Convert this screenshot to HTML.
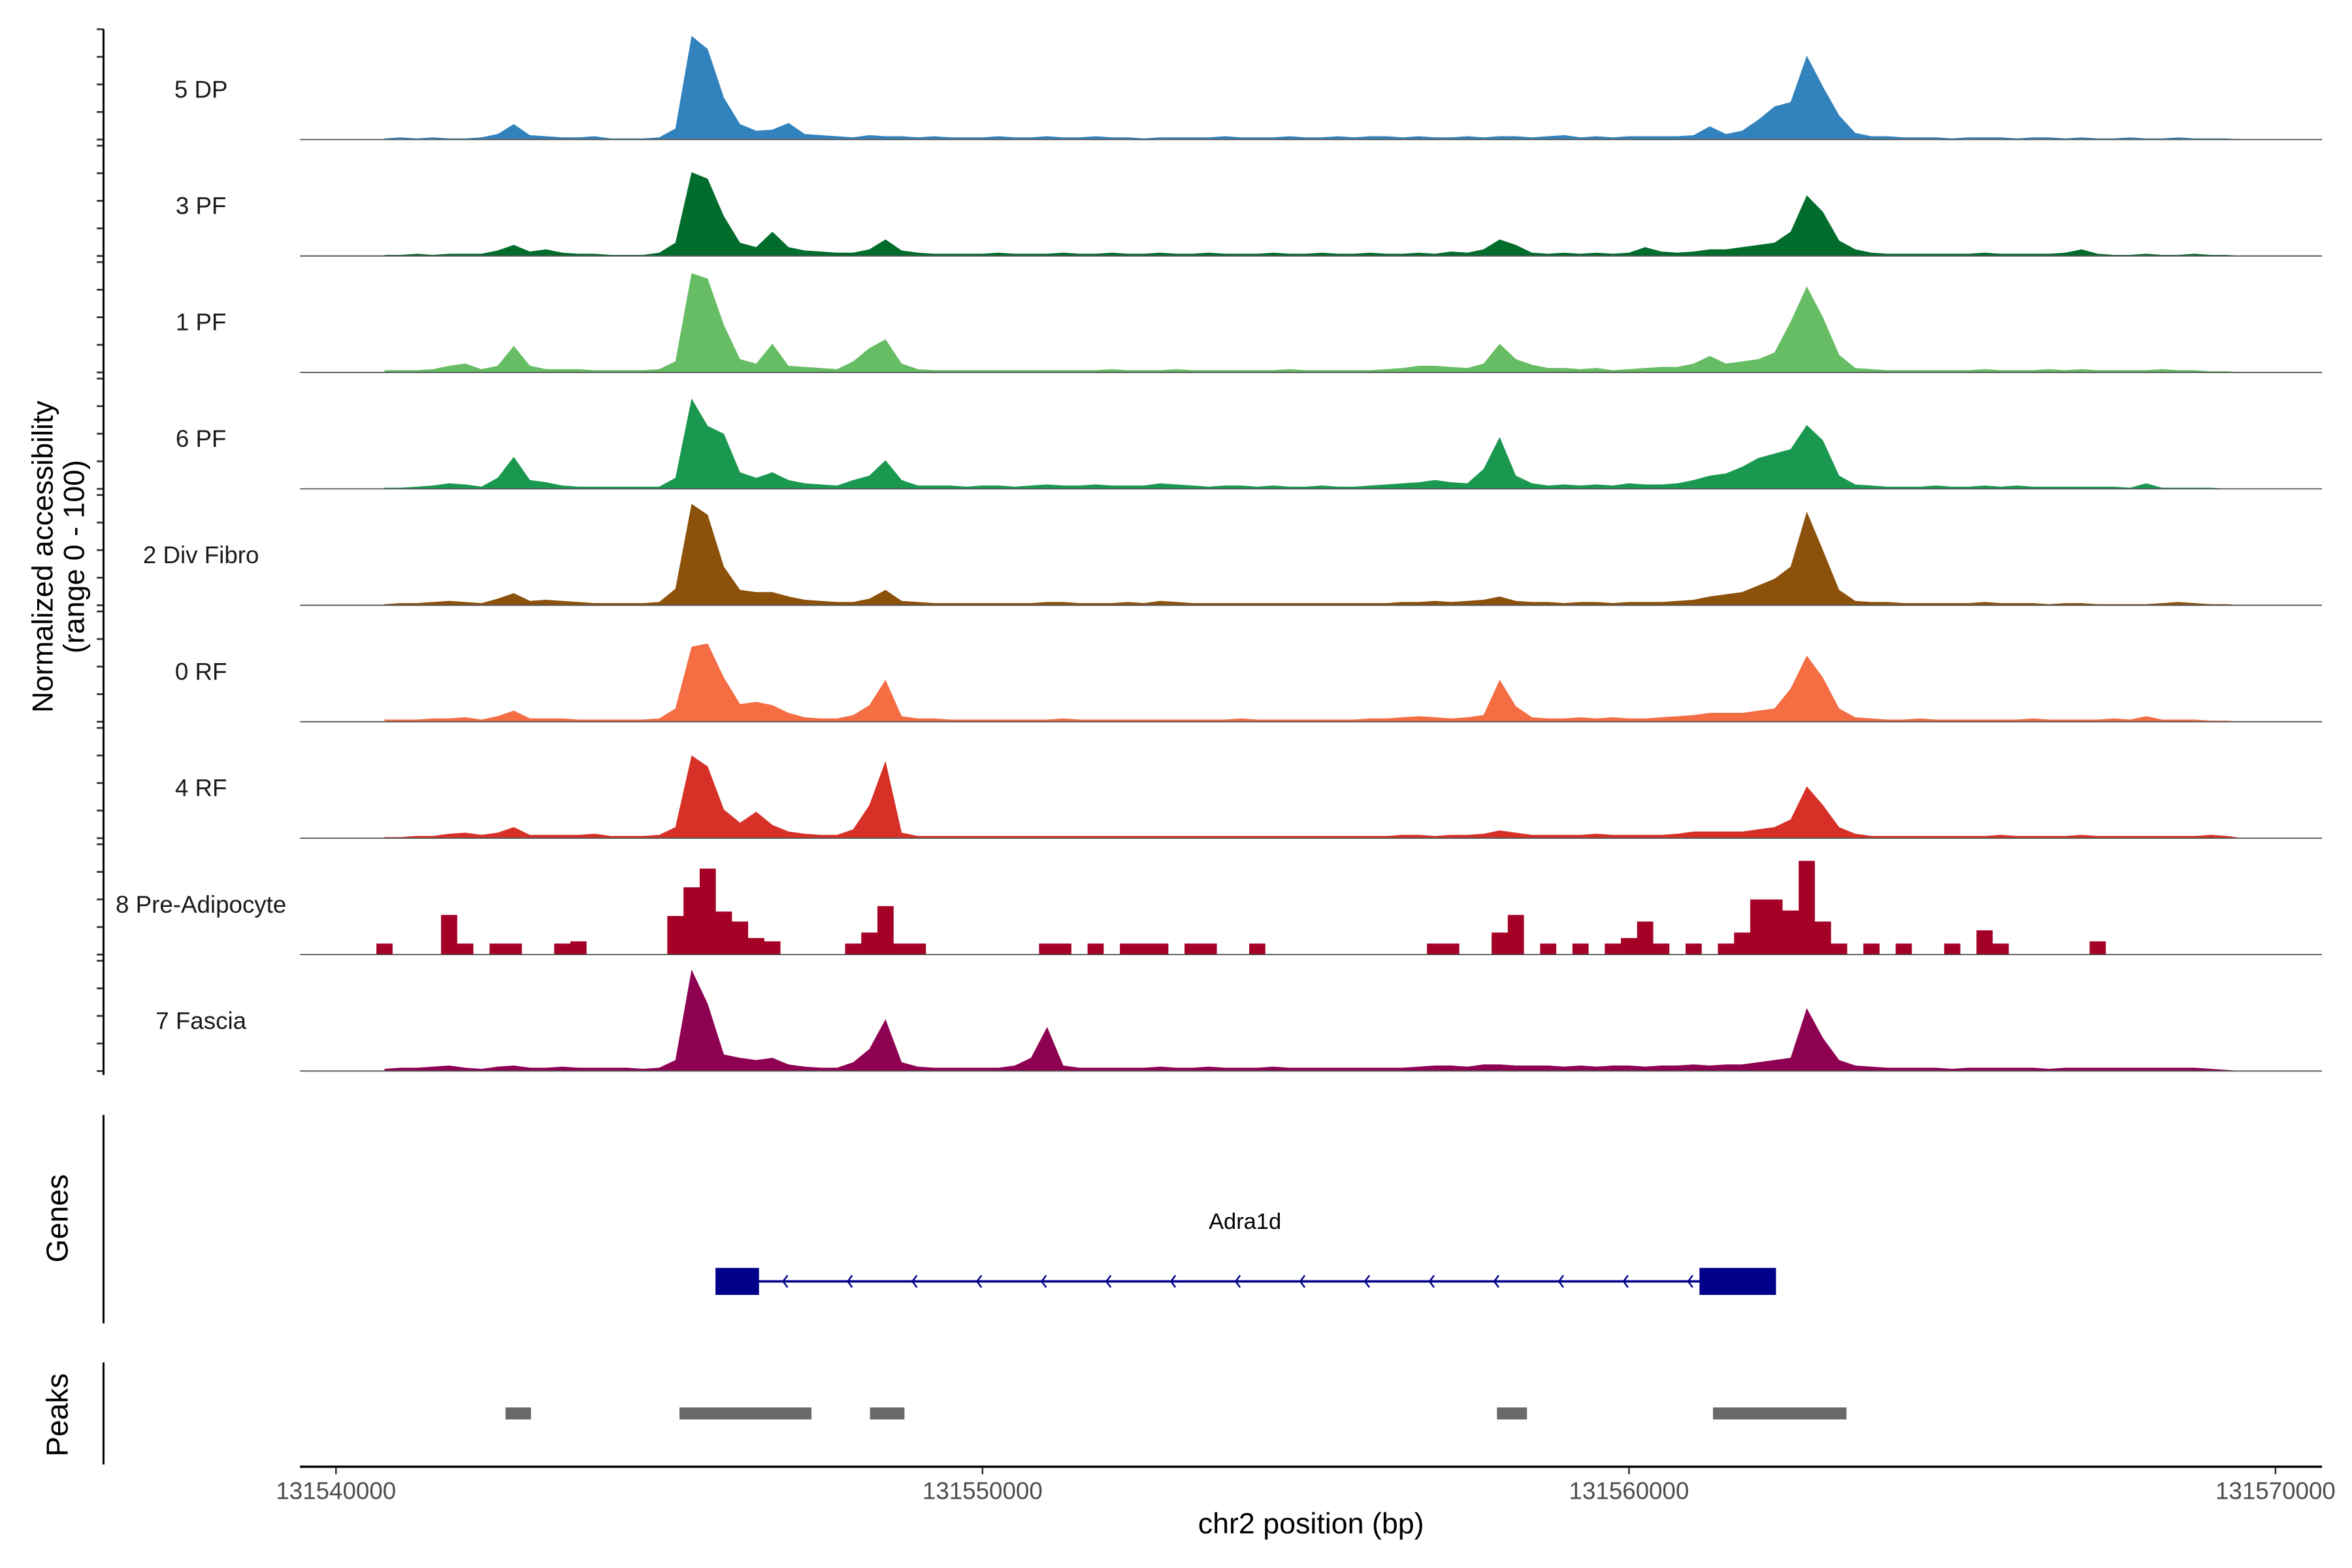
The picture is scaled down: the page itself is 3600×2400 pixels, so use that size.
<!DOCTYPE html>
<html><head><meta charset="utf-8"><style>
html,body{margin:0;padding:0;background:#fff;}
svg{display:block;}
text{font-family:"Liberation Sans",Arial,sans-serif;}
</style></head><body>
<svg id="chart" width="3600" height="2400" viewBox="0 0 1568 1045" preserveAspectRatio="none" xmlns="http://www.w3.org/2000/svg">
<rect x="0" y="0" width="1568" height="1045" fill="#fff"/>
<g id="tracks"></g>
<g id="yaxis"></g>
<text transform="translate(35,371) rotate(-90)" text-anchor="middle" font-size="19.5" fill="#000">Normalized accessibility</text>
<text transform="translate(56,371) rotate(-90)" text-anchor="middle" font-size="19.5" fill="#000">(range 0 - 100)</text>
<line x1="69" y1="743" x2="69" y2="882" stroke="#000" stroke-width="1.3"/>
<text transform="translate(45,812) rotate(-90)" text-anchor="middle" font-size="20" fill="#000">Genes</text>
<g id="gene"></g>
<line x1="69" y1="908" x2="69" y2="976" stroke="#000" stroke-width="1.3"/>
<text transform="translate(45,943) rotate(-90)" text-anchor="middle" font-size="20" fill="#000">Peaks</text>
<g id="peaks"></g>
<g id="xaxis"></g>
<text x="874" y="1022" text-anchor="middle" font-size="19.5" fill="#000">chr2 position (bp)</text>
</svg>
<script>
const trackNames = ["5 DP","3 PF","1 PF","6 PF","2 Div Fibro","0 RF","4 RF","8 Pre-Adipocyte","7 Fascia"];
const trackColors = ["#3182bd","#006d2c","#66bd63","#1a9850","#8c510a","#f46d43","#d73027","#a50026","#8e0152"];
const binStart = 131540750;
const binStep = 250;
const dp5 = [1,2,1,2,1,1,2,5,14,4, 3,2,2,3,1,1,1,2,10,94, 82,38,14,8,9,15,5,4,3,2, 4,3,3,2,3,2,2,2,3,2, 2,3,2,2,3,2,2,1,2,2, 2,2,3,2,2,2,3,2,2,3, 2,3,3,2,3,2,2,3,2,3, 3,2,3,4,2,3,2,3,3,3, 3,4,12,5,8,18,30,34,76,48, 22,6,3,3,2,2,2,1,2,2, 2,1,2,2,1,2,1,1,2,1, 1,2,1,1,1,0,0];
const pf3 = [1,1,2,1,2,2,2,5,10,4, 6,3,2,2,1,1,1,3,12,76, 70,36,12,8,22,8,5,4,3,3, 6,15,5,3,2,2,2,2,3,2, 2,2,3,2,2,3,2,2,3,2, 2,3,2,2,2,3,2,2,3,2, 2,3,2,2,3,2,4,3,6,15, 10,3,2,3,2,3,2,3,8,4, 3,4,6,6,8,10,12,22,55,40, 14,6,3,2,2,2,2,2,2,3, 2,2,2,2,3,6,2,1,1,2, 1,1,2,1,1,0,0];
const pf1 = [2,2,2,3,6,8,3,6,24,6, 3,3,3,2,2,2,2,3,10,90, 85,43,12,8,26,6,5,4,3,10, 22,30,8,3,2,2,2,2,2,2, 2,2,2,2,2,3,2,2,2,3, 2,2,2,2,2,2,3,2,2,2, 2,2,3,4,6,6,5,4,8,26, 12,7,4,4,3,4,2,3,4,5, 5,8,15,8,10,12,18,46,78,50, 16,4,3,2,2,2,2,2,2,3, 2,2,2,3,2,3,2,2,2,2, 3,2,2,1,1,0,0];
const pf6 = [1,1,2,3,5,4,2,10,29,8, 6,3,2,2,2,2,2,2,10,82, 57,50,15,10,15,8,5,4,3,8, 12,26,8,3,3,3,2,3,3,2, 3,4,3,3,4,3,3,3,5,4, 3,2,3,3,2,3,2,2,3,2, 2,3,4,5,6,8,6,5,18,47, 12,5,3,4,3,4,3,5,4,4, 5,8,12,14,20,28,32,36,58,44, 12,4,3,2,2,2,3,2,2,3, 2,3,2,2,2,2,2,2,1,5, 1,1,1,1,0,0,0];
const divFibro2 = [1,2,2,3,4,3,2,6,11,4, 5,4,3,2,2,2,2,3,15,92, 82,35,14,12,12,8,5,4,3,3, 6,14,4,3,2,2,2,2,2,2, 2,3,3,2,2,2,3,2,4,3, 2,2,2,2,2,2,2,2,2,2, 2,2,2,3,3,4,3,4,5,8, 4,3,3,2,3,3,2,3,3,3, 4,5,8,10,12,18,24,35,85,50, 14,4,3,3,2,2,2,2,2,3, 2,2,2,1,2,2,1,1,1,1, 2,3,2,1,1,0,0];
const rf0 = [2,2,2,3,3,4,2,5,10,3, 3,3,2,2,2,2,2,3,12,68, 71,40,16,18,15,8,4,3,3,6, 15,38,5,3,3,2,2,2,2,2, 2,2,3,2,2,2,2,2,2,2, 2,2,2,3,2,2,2,2,2,2, 2,3,3,4,5,4,3,4,6,38, 14,4,3,3,4,3,4,3,3,4, 5,6,8,8,8,10,12,30,60,40, 12,4,3,2,2,3,2,2,2,2, 2,2,3,2,2,2,2,3,2,5, 2,2,2,1,1,0,0];
const rf4 = [1,1,2,2,4,5,3,5,10,3, 3,3,3,4,2,2,2,3,10,75, 65,26,14,24,12,6,4,3,3,8, 30,70,5,2,2,2,2,2,2,2, 2,2,2,2,2,2,2,2,2,2, 2,2,2,2,2,2,2,2,2,2, 2,2,2,3,3,2,3,3,4,7, 5,3,3,3,3,4,3,3,3,3, 4,6,6,6,6,8,10,17,47,30, 10,4,2,2,2,2,2,2,2,2, 3,2,2,2,2,3,2,2,2,2, 2,2,2,3,2,0,0];
const preAdipocyte8 = [10,0,0,0,36,10,0,10,10,0, 0,10,12,0,0,0,0,0,35,61, 78,39,30,15,12,0,0,0,0,10, 20,44,10,10,0,0,0,0,0,0, 0,10,10,0,10,0,10,10,10,0, 10,10,0,0,10,0,0,0,0,0, 0,0,0,0,0,10,10,0,0,20, 36,0,10,0,10,0,10,15,30,10, 0,10,0,10,20,50,50,40,85,30, 10,0,10,0,10,0,0,10,0,22, 10,0,0,0,0,0,12,0,0,0, 0,0,0,0,0,0,0];
const fascia7 = [2,3,3,4,5,3,2,4,5,3, 3,4,3,3,3,3,2,3,10,92, 61,15,12,10,12,6,4,3,3,8, 20,47,8,4,3,3,3,3,3,5, 12,40,5,3,3,3,3,3,4,3, 3,4,3,3,3,4,3,3,3,3, 3,3,3,3,4,5,5,4,6,6, 5,5,5,4,5,4,5,5,4,5, 5,6,5,6,6,8,10,12,57,30, 10,5,4,3,3,3,3,2,3,3, 3,3,3,2,3,3,3,3,3,3, 3,3,3,2,1,0,0];
const seriesValues = [dp5,pf3,pf1,pf6,divFibro2,rf0,rf4,preAdipocyte8,fascia7];
const xTicks = [131540000,131550000,131560000,131570000];
const yTicks = [0,25,50,75,100];
const geneName = "Adra1d";
const geneStart = 131545870, geneEnd = 131562274;
const exons = [[131545870,131546543],[131561090,131562274]];
const chevronPositions = [131546950,131547950,131548950,131549950,131550950,131551950,131552950,131553950,131554950,131555950,131556950,131557950,131558950,131559950,131560950];
const peakStarts = [131542622,131545313,131548260,131557958,131561299];
const peakEnds   = [131543016,131547355,131548793,131558422,131563364];

const NS = "http://www.w3.org/2000/svg";
function X(bp){ return 224 + (bp - 131540000) * 0.0431; }
const trackTop0 = 19.5, trackPitch = 77.6, trackH = 73.5;
function baseY(t){ return trackTop0 + t*trackPitch + trackH; }
function Y(t,v){ return baseY(t) - v/100*trackH; }
function mk(tag, attrs, parent){ const e=document.createElementNS(NS,tag); for(const k in attrs) e.setAttribute(k,attrs[k]); parent.appendChild(e); return e; }

const gT = document.getElementById('tracks');
const gY = document.getElementById('yaxis');
seriesValues.forEach((vals,t)=>{
  const b = baseY(t);
  let d;
  if (t === 7) {
    d = "M" + X(binStart - binStep/2) + "," + b;
    vals.forEach((v,i)=>{ const x0=X(binStart+binStep*i-binStep/2), x1=X(binStart+binStep*i+binStep/2); d += " L"+x0+","+Y(t,v)+" L"+x1+","+Y(t,v); });
    d += " L"+X(binStart+binStep*(vals.length-0.5))+","+b+" Z";
  } else {
    d = "M" + X(binStart) + "," + b;
    vals.forEach((v,i)=>{ d += " L"+X(binStart+binStep*i)+","+Y(t,v); });
    d += " L"+X(binStart+binStep*(vals.length-1))+","+b+" Z";
  }
  const p = mk('path',{d:d,fill:trackColors[t]},gT);
  
  
  const bl = mk('line',{x1:200,x2:1548,y1:b,y2:b,stroke:'#555','stroke-width':0.8},gT);
  
  
  const lab = mk('text',{x:134,y:b-28,'text-anchor':'middle','font-size':16,fill:'#1a1a1a'},gT);
  lab.textContent = trackNames[t];
  
  
  yTicks.forEach(v=>{
    const tk = mk('line',{x1:64.5,x2:69,y1:Y(t,v),y2:Y(t,v),stroke:'#333','stroke-width':1.2},gY);
    
    
  });
});
const ya = mk('line',{x1:69,x2:69,y1:19.5,y2:716.5,stroke:'#000','stroke-width':1.3},gY);



const gG = document.getElementById('gene');
const gl = mk('line',{x1:X(geneStart),x2:X(geneEnd),y1:854,y2:854,stroke:'#00008b','stroke-width':1.6},gG);


chevronPositions.forEach(bp=>{
  const c = mk('path',{d:"M"+(X(bp)+1.5)+",850 L"+(X(bp)-1.5)+",854 L"+(X(bp)+1.5)+",858",fill:'none',stroke:'#00008b','stroke-width':1.1},gG);
  
  
});
exons.forEach(e=>{
  const r = mk('rect',{x:X(e[0]),y:845,width:X(e[1])-X(e[0]),height:18,fill:'#00008b'},gG);
  
  
});
const gn = mk('text',{x:830,y:819,'text-anchor':'middle','font-size':15,fill:'#000'},gG);
gn.textContent = geneName;



const gP = document.getElementById('peaks');
peakStarts.forEach((s,i)=>{
  const r = mk('rect',{x:X(s),y:938,width:X(peakEnds[i])-X(s),height:8,fill:'#696969'},gP);
  
  
});

const gX = document.getElementById('xaxis');
const xl = mk('line',{x1:200,x2:1548,y1:977.5,y2:977.5,stroke:'#000','stroke-width':1.5},gX);


xTicks.forEach(bp=>{
  const tk = mk('line',{x1:X(bp),x2:X(bp),y1:978,y2:982.5,stroke:'#333','stroke-width':1.1},gX);
  
  
  const tl = mk('text',{x:X(bp),y:999,'text-anchor':'middle','font-size':16,fill:'#4d4d4d'},gX);
  tl.textContent = String(bp);
  
  
});
</script>
</body></html>
